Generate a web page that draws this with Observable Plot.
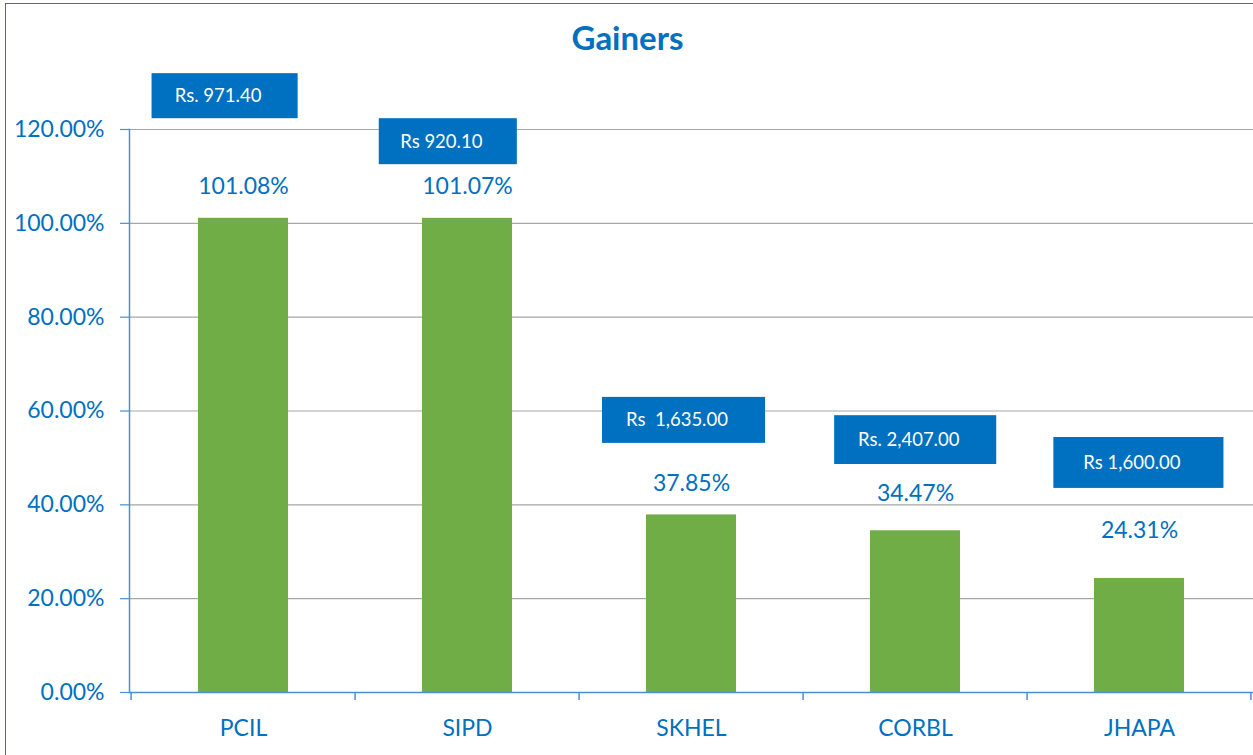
<!DOCTYPE html>
<html>
<head>
<meta charset="utf-8">
<script src="https://cdn.jsdelivr.net/npm/d3@7"></script>
<script src="https://cdn.jsdelivr.net/npm/@observablehq/plot@0.6"></script>
<style>
  html, body { margin: 0; padding: 0; background: #fff; overflow: hidden; width: 1253px; height: 755px; }
  #frame { position: absolute; left: 5px; top: 3px; width: 1300px; height: 800px; border: 1.5px solid #2E75B6; pointer-events: none; }
  #title { height: 60px; box-sizing: border-box; padding-top: 21px; padding-left: 2px; line-height: 1; text-align: center; font-family: Lato, sans-serif; font-weight: bold; font-size: 33px; color: #0070C0; }
  #chart svg { display: block; overflow: visible; }
</style>
</head>
<body>
<div id="title">Gainers</div>
<div id="chart"></div>
<div id="frame"></div>
<script>
// ---- data ----
const categories = ["PCIL", "SIPD", "SKHEL", "CORBL", "JHAPA"];
const gains = [101.08, 101.07, 37.85, 34.47, 24.31];
const prices = ["Rs. 971.40", "Rs 920.10", "Rs \u00a01,635.00", "Rs. 2,407.00", "Rs 1,600.00"];
const yTicks = [0, 20, 40, 60, 80, 100, 120];

// ---- layout (annotation placement, not data) ----
const boxLayout = [
  {y1: 122.3, y2: 131.9, left: -91.4, right: 54.6},
  {y1: 112.5, y2: 122.3, left: -88.2, right: 49.8},
  {y1: 53.1, y2: 62.9, left: -89.0, right: 74.0},
  {y1: 48.6, y2: 59.0, left: -80.8, right: 81.2},
  {y1: 43.5, y2: 54.35, left: -85.6, right: 84.4}
];
const labelDy = [-32, -32, -31.5, -37, -48];

const W = 1253, H = 695, ML = 129, MR = 0, MT = 69, MB = 63;
const step = (W - ML - MR) / categories.length;
const bw = step * 0.4;
const textBlue = "#0070C0", boxBlue = "#0070C0", axisBlue = "#4A8FD4", green = "#70AD47", grid = "#A6A6A6";

const rows = categories.map((c, i) => ({name: c, gain: gains[i], price: prices[i], i}));

const boxMarks = rows.map((r, i) => {
  const L = boxLayout[i];
  return Plot.barY([r], {
    x: "name", y1: () => L.y1, y2: () => L.y2, fill: boxBlue,
    insetLeft: bw / 2 + L.left, insetRight: bw / 2 - L.right
  });
});
const boxText = rows.map((r, i) => {
  const L = boxLayout[i];
  return Plot.text([r], {
    x: "name", y: () => (L.y1 + L.y2) / 2, text: "price", fill: "white",
    fontSize: 18.5, dx: (L.left + L.right) / 2 - 7
  });
});
const valueText = rows.map((r, i) => Plot.text([r], {
  x: "name", y: "gain", text: d => d.gain.toFixed(2) + "%", fill: textBlue, fontSize: 23, dy: labelDy[i]
}));

const bounds = categories.map((c, i) => ({name: c, dx: -step / 2})).concat([{name: categories[categories.length - 1], dx: step / 2 - 1}]);

const chart = Plot.plot({
  width: W, height: H,
  marginLeft: ML, marginRight: MR, marginTop: MT, marginBottom: MB,
  style: {fontFamily: "Lato, sans-serif", fontSize: "23px", background: "transparent", overflow: "visible"},
  x: {domain: categories, paddingInner: 0.6, paddingOuter: 0.3, axis: null, label: null},
  y: {domain: [0, 120], axis: null, label: null},
  marks: [
    Plot.gridY(yTicks.slice(1), {stroke: grid, strokeOpacity: 1, strokeWidth: 1.2}),
    Plot.barY(rows, {x: "name", y: "gain", fill: green}),
    Plot.axisY({ticks: yTicks, tickFormat: d => d.toFixed(2) + "%", tickSize: 9, tickPadding: 16, fontSize: 23, color: textBlue, stroke: axisBlue, strokeWidth: 1.2, label: null}),
    Plot.axisX({tickSize: 0, tickPadding: 27, fontSize: 23, color: textBlue, label: null}),
    Plot.frame({anchor: "left", stroke: axisBlue, strokeWidth: 1.5}),
    Plot.ruleY([0], {stroke: axisBlue, strokeWidth: 1.5}),
    ...bounds.map(b => Plot.ruleX([b], {x: "name", dx: b.dx, y1: 0, y2: 0, insetBottom: -8, stroke: axisBlue, strokeWidth: 1.5})),
    ...boxMarks,
    ...boxText,
    ...valueText
  ]
});
document.getElementById("chart").appendChild(chart);
</script>
</body>
</html>
